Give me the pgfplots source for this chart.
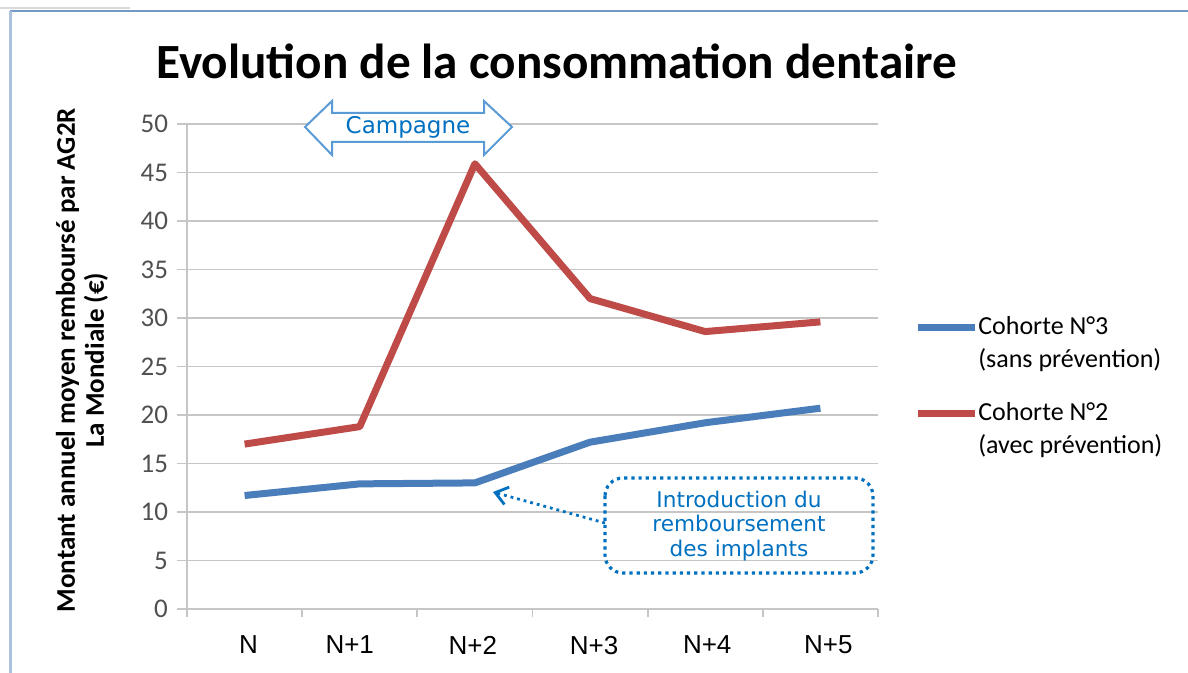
\documentclass[border=0pt]{standalone}
\usepackage{pgfplots}
\pgfplotsset{compat=1.18}
\usetikzlibrary{arrows.meta}
\usepackage{fontspec}
\setmainfont{Carlito}
\newfontfamily\arial{Liberation Sans}
\newfontfamily\dejavu{DejaVu Sans}
\definecolor{serblue}{HTML}{4A7EBB}
\definecolor{serred}{HTML}{BE4B48}
\definecolor{gridgray}{HTML}{C6C6C6}
\definecolor{ticklab}{HTML}{505050}
\definecolor{annblue}{HTML}{0070C0}
\definecolor{arrblue}{HTML}{5B9BD5}
\definecolor{frameblue}{HTML}{7399C6}

\pgfplotstableread{
x  c3    c2
0  11.7  17.0
1  12.9  18.8
2  13.0  45.9
3  17.2  32.0
4  19.2  28.6
5  20.7  29.6
}\conso

\begin{document}
\begin{tikzpicture}
\path[use as bounding box] (0pt,0pt) rectangle (594pt,336.5pt);

\begin{axis}[
    at={(93.5pt,32pt)}, anchor=south west,
    scale only axis,
    width=345.5pt, height=242.5pt,
    xmin=-0.5, xmax=5.5,
    ymin=0, ymax=50,
    ytick={0,5,...,50},
    xtick={0,...,5},
    xticklabels={\hspace*{4pt}N,
                 \raisebox{-1.5pt}{N+1}\hspace*{10pt},
                 N+2\hspace*{2pt},
                 \raisebox{-1.5pt}{\hspace*{4pt}N+3},
                 \hspace*{2pt}N+4,
                 \raisebox{-1.5pt}{\hspace*{8pt}N+5}},
    minor xtick={-0.5,0.5,...,5.5},
    axis x line*=bottom, axis y line*=left,
    axis line style={draw=gridgray, line width=0.9pt, -},
    tick align=outside,
    major tick length=5pt,
    minor tick length=4pt,
    xtick style={draw=none},
    minor x tick style={draw=gridgray, line width=0.9pt},
    ytick style={draw=gridgray, line width=0.9pt},
    ymajorgrids,
    grid style={draw=gridgray, line width=0.8pt},
    /pgf/number format/assume math mode=true,
    yticklabel style={font=\fontsize{13.5}{15}\selectfont, color=ticklab, xshift=-1pt},
    xticklabel style={font=\arial\fontsize{13}{15}\selectfont, color=black, yshift=-5pt},
    ylabel={Montant annuel moyen remboursé par AG2R\\La Mondiale (€)},
    ylabel style={font=\bfseries\fontsize{13.5}{14.5}\selectfont, align=center,
        at={(axis description cs:-0.152,0.513)}, anchor=center},
    title={Evolution de la consommation dentaire},
    title style={font=\bfseries\fontsize{24.6}{28}\selectfont,
        at={(axis description cs:0.535,1.105)}, anchor=center},
    legend style={at={(axis description cs:1.052,0.612)}, anchor=north west,
        draw=none, fill=none, inner sep=0pt,
        font=\fontsize{13}{16.5}\selectfont,
        cells={align=left}, row sep=12pt,
        /tikz/every even column/.append style={column sep=0pt}},
    legend cell align=left,
    legend image code/.code={\draw[#1] (0pt,8pt) -- (28.5pt,8pt);},
    legend style={nodes={inner xsep=0pt}},
]
\addplot[serblue, line width=3.5pt, line join=round] table[x=x, y=c3] {\conso};
\addlegendentry{Cohorte N°3\\(sans prévention)}
\addplot[serred, line width=3.5pt, line join=round] table[x=x, y=c2] {\conso};
\addlegendentry{Cohorte N°2\\(avec prévention)}
\end{axis}

\begin{scope}[x=0.5pt, y=-0.5pt, shift={(0pt,336.5pt)}]
  % cadre
  \draw[frameblue, line width=1pt] (10,11) -- (1188,11);
  \draw[frameblue!60, line width=1.5pt] (10,11) -- (10,673);
  \draw[gray!30, line width=0.8pt] (0,8) -- (130,8);
  % fleche campagne
  \draw[arrblue, line width=1pt, fill=white, line join=miter]
    (305,127) -- (332,101) -- (332,113) -- (484,113) -- (484,101) -- (512,127)
    -- (484,155) -- (484,142) -- (332,142) -- (332,155) -- cycle;
  \node[font=\dejavu\fontsize{11.5}{13}\selectfont, text=annblue] at (408,127) {Campagne};
  % encadre implants
  \draw[annblue, line width=1.6pt, dash pattern=on 1.6pt off 2pt, rounded corners=9pt]
    (605,478) rectangle (873,573);
  \node[font=\dejavu\fontsize{10.8}{12.2}\selectfont, text=annblue, align=center]
    at (739,526) {Introduction du\\remboursement\\des implants};
  \draw[annblue, line width=1.4pt, dash pattern=on 1.4pt off 2pt, -{Straight Barb[length=6pt,width=9pt]}]
    (605,523) -- (493,492);
\end{scope}
\end{tikzpicture}
\end{document}
